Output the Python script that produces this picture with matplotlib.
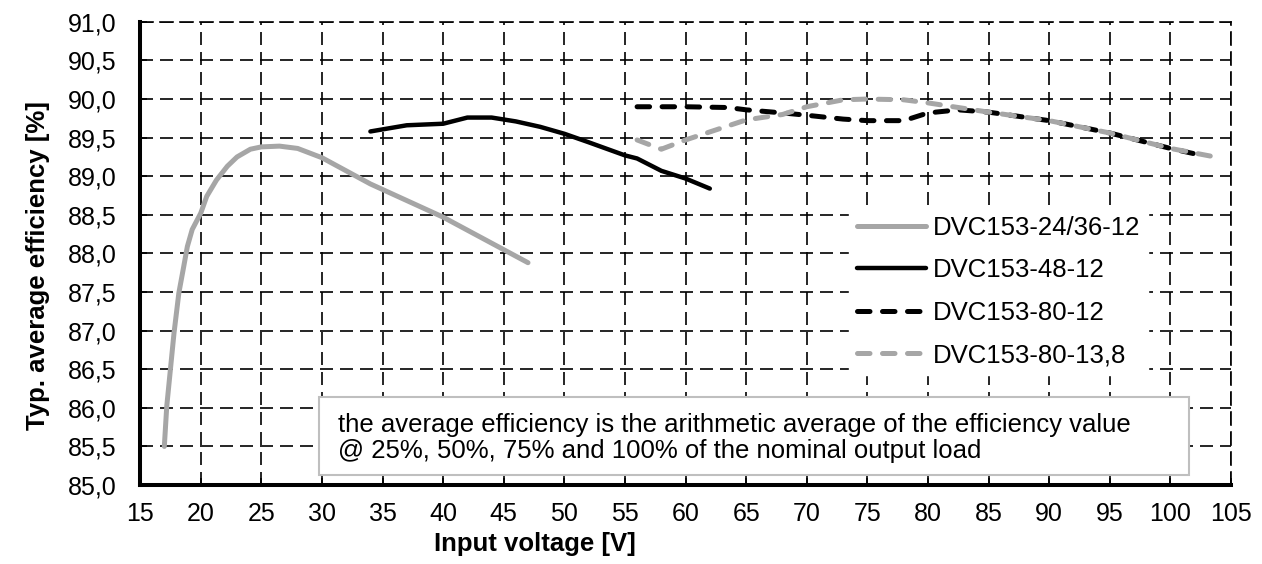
import matplotlib.pyplot as plt
from matplotlib.patches import Rectangle

plt.rcParams['font.family'] = ['Liberation Sans', 'DejaVu Sans']

v_24 = [17, 17.2, 17.8, 18.2, 18.6, 18.9, 19.3, 20, 20.5, 21.3, 22.2, 23, 24.1, 25, 26.5, 28, 30, 34, 40, 47]
e_24 = [85.5, 86.02, 86.97, 87.49, 87.83, 88.09, 88.31, 88.52, 88.74, 88.95, 89.13, 89.25, 89.35, 89.38,
        89.39, 89.36, 89.24, 88.9, 88.47, 87.88]

v_48 = [34, 37, 40, 42, 44, 46, 48, 50, 52, 55, 56, 58, 60, 62]
e_48 = [89.58, 89.66, 89.68, 89.76, 89.76, 89.71, 89.64, 89.55, 89.44, 89.27, 89.23, 89.07, 88.97, 88.84]

v_80_12 = [56, 60, 63.5, 65, 68, 70, 73, 75, 78, 80, 82.5, 85, 90, 95, 100, 102]
e_80_12 = [89.9, 89.9, 89.89, 89.86, 89.82, 89.79, 89.74, 89.72, 89.72, 89.82, 89.86, 89.83, 89.72, 89.56, 89.36, 89.29]

v_80_138 = [56, 58, 60, 62.5, 65, 68, 70, 73, 75, 78, 80, 85, 90, 95, 100, 104]
e_80_138 = [89.47, 89.35, 89.47, 89.6, 89.73, 89.8, 89.9, 89.99, 90.0, 89.99, 89.95, 89.83, 89.72, 89.56, 89.36, 89.24]

labels = ['DVC153-24/36-12', 'DVC153-48-12', 'DVC153-80-12', 'DVC153-80-13,8']
x_ticks = list(range(15, 106, 5))
y_ticks = [85 + 0.5 * i for i in range(13)]
note = ('the average efficiency is the arithmetic average of the efficiency value\n'
        '@ 25%, 50%, 75% and 100% of the nominal output load')

grey = '#a6a6a6'
grid_ls = (0, (7.8, 4.2))

fig = plt.figure(figsize=(12.62, 5.64), dpi=100)
ax = fig.add_axes([0.111, 0.140, 0.8645, 0.8213])

ax.plot(v_24, e_24, color=grey, lw=3.6, solid_capstyle='round', solid_joinstyle='round',
        label=labels[0], zorder=3)
ax.plot(v_48, e_48, color='black', lw=3.2, solid_capstyle='round', solid_joinstyle='round',
        label=labels[1], zorder=3)
ax.plot(v_80_12, e_80_12, color='black', lw=3.6, ls=(0, (2.5, 2.5)),
        dash_capstyle='round', label=labels[2], zorder=3)
ax.plot(v_80_138, e_80_138, color=grey, lw=3.6, ls=(0, (2.5, 2.5)),
        dash_capstyle='round', label=labels[3], zorder=3)

ax.set_xlim(15, 105)
ax.set_ylim(85, 91)
ax.set_xticks(x_ticks)
ax.set_yticks(y_ticks)
ax.set_yticklabels([f'{v:.1f}'.replace('.', ',') for v in y_ticks])
ax.grid(True, color='black', lw=1.2, ls=grid_ls)
ax.set_axisbelow(True)

for s in ['left', 'bottom']:
    ax.spines[s].set_linewidth(2.9)
for s in ['top', 'right']:
    ax.spines[s].set_linewidth(1.2)
    ax.spines[s].set_linestyle(grid_ls)
ax.tick_params(direction='in', length=5, width=1.2, labelsize=18)
ax.tick_params(axis='x', pad=12)
ax.tick_params(axis='y', pad=17)

ax.set_xlabel('Input voltage [V]', fontsize=18.5, fontweight='bold')
ax.xaxis.set_label_coords(0.362, -0.102)
ax.set_ylabel('Typ. average efficiency [%]', fontsize=18.5, fontweight='bold')
ax.yaxis.set_label_coords(-0.0825, 0.475)

leg = ax.legend(loc='upper left', bbox_to_anchor=(0.65, 0.598), fontsize=18.5,
                frameon=True, fancybox=False, framealpha=1, edgecolor='white',
                borderaxespad=0, borderpad=0.3, handlelength=2.7,
                handletextpad=0.25, labelspacing=0.72)
leg.set_zorder(5)

ax.add_patch(Rectangle((0.164, 0.0216), 0.797, 0.168, transform=ax.transAxes,
                       facecolor='white', edgecolor='#bfbfbf', lw=1.5, zorder=4))
ax.text(0.1815, 0.101, note, transform=ax.transAxes, fontsize=18.5,
        va='center', ha='left', linespacing=1.1, zorder=6)

fig.savefig('out.png', dpi=100)
